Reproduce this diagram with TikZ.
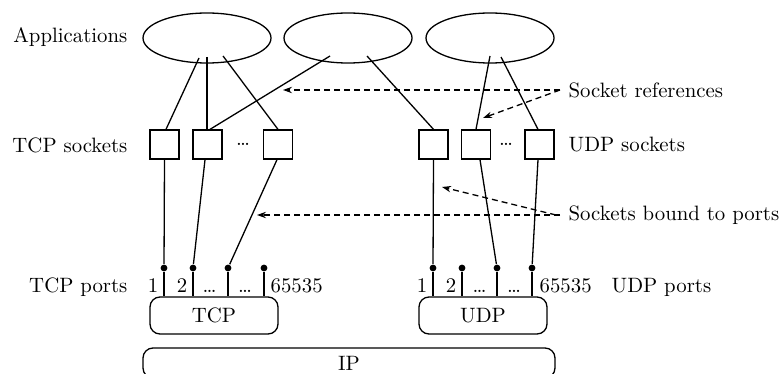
\documentclass[tikz,border=0pt]{standalone}
\usepackage{tikz}
\usetikzlibrary{arrows.meta,shapes.geometric}

\begin{document}
\begin{tikzpicture}[x=0.5pt, y=-0.5pt, font=\fontsize{10.4}{12}\selectfont, line width=0.65pt,
    app/.style={draw, ellipse, minimum width=64pt, minimum height=25pt, inner sep=0pt},
    sock/.style={draw, minimum width=14.5pt, minimum height=14.5pt, inner sep=0pt},
    proto/.style={draw, rounded corners=5pt, minimum width=64pt, minimum height=18.5pt, inner sep=0pt},
    port/.style={circle, fill, inner sep=0pt, minimum size=3.4pt},
    txt/.style={inner sep=0pt},
    ref/.style={-{Stealth[length=4.5pt, width=3.2pt]}, dash pattern=on 3pt off 2pt}]

    \useasboundingbox (0,0) rectangle (781,374);

    \node[app] (app1) at (207,38) {};
    \node[app] (app2) at (348,38) {};
    \node[app] (app3) at (490,38) {};

    \foreach \n/\x in {tcpa/164.5, tcpb/207.5, tcpc/278, udpa/433.5, udpb/476, udpc/539.5}
        \node[sock] (\n) at (\x,144.5) {};
    \node[txt] (tdots) at (243,144.5) {\dots};
    \node[txt] (udots) at (506,144.5) {\dots};

    \node[proto] (tcp) at (214,315.5) {TCP};
    \node[proto] (udp) at (483,315.5) {UDP};
    \node[proto, minimum width=206pt, minimum height=15pt] (ip) at (349,363) {IP};

    \foreach \n/\x in {tp1/164, tp2/193, tp3/228, tp4/264}
        \node[port] (\n) at (\x,268) {};
    \foreach \n/\x in {up1/433, up2/462, up3/497, up4/532}
        \node[port] (\n) at (\x,268) {};
    \foreach \n in {tp1,tp2,tp3,tp4}
        \draw (\n) -- (\n |- tcp.north);
    \foreach \n in {up1,up2,up3,up4}
        \draw (\n) -- (\n |- udp.north);

    \foreach \t/\x [count=\i] in {1/153, 2/182, \dots/209.5, \dots/245}
        \node[txt, anchor=base] (tnum\i) at (\x,292) {\t};
    \foreach \t/\x [count=\i] in {1/422, 2/451, \dots/479.5, \dots/514}
        \node[txt, anchor=base] (unum\i) at (\x,292) {\t};
    \node[txt, anchor=base west] (tmax) at (270,292) {65535};
    \node[txt, anchor=base west] (umax) at (539,292) {65535};

    \node[txt, anchor=east] (apps) at (128,37) {Applications};
    \node[txt, anchor=east] (tsocks) at (128,145) {TCP sockets};
    \node[txt, anchor=base east] (tports) at (128,292) {TCP ports};
    \node[txt, anchor=west] (refs) at (568,90) {Socket references};
    \node[txt, anchor=west] (usocks) at (568,145) {UDP sockets};
    \node[txt, anchor=west] (bound) at (568,215) {Sockets bound to ports};
    \node[txt, anchor=base west] (uports) at (611,292) {UDP ports};

    \draw ([shift={(-8,20)}]app1.center) -- ([xshift=0.75pt]tcpa.north);
    \draw ([shift={(0,19)}]app1.center) -- (app1.center |- tcpb.north);
    \draw ([shift={(16,18)}]app1.center) -- (tcpc.north);
    \draw ([shift={(-18,18)}]app2.center) -- ([xshift=1.25pt]tcpb.north);
    \draw ([shift={(19,18)}]app2.center) -- (udpa.north);
    \draw ([shift={(0,18)}]app3.center) -- (udpb.north);
    \draw ([shift={(11,19)}]app3.center) -- ([xshift=-0.75pt]udpc.north);

    \draw (tcpa.south) -- (tp1);
    \draw ([xshift=-1.25pt]tcpb.south) -- (tp2);
    \draw ([xshift=-0.5pt]tcpc.south) -- (tp3);
    \draw (udpa.south) -- (up1);
    \draw ([xshift=2pt]udpb.south) -- (up3);
    \draw ([xshift=-0.75pt]udpc.south) -- (up4);

    \coordinate (refA) at (283,90);
    \coordinate (refB) at (483,118);
    \coordinate (bndA) at (257,215);
    \coordinate (bndB) at (442,187);
    \draw[ref] ([xshift=-4pt]refs.west) -- (refA);
    \draw[ref] ([xshift=-4pt]refs.west) -- (refB);
    \draw[ref] ([xshift=-4pt]bound.west) -- (bndA);
    \draw[ref] ([xshift=-6pt]bound.west) -- (bndB);
\end{tikzpicture}
\end{document}
